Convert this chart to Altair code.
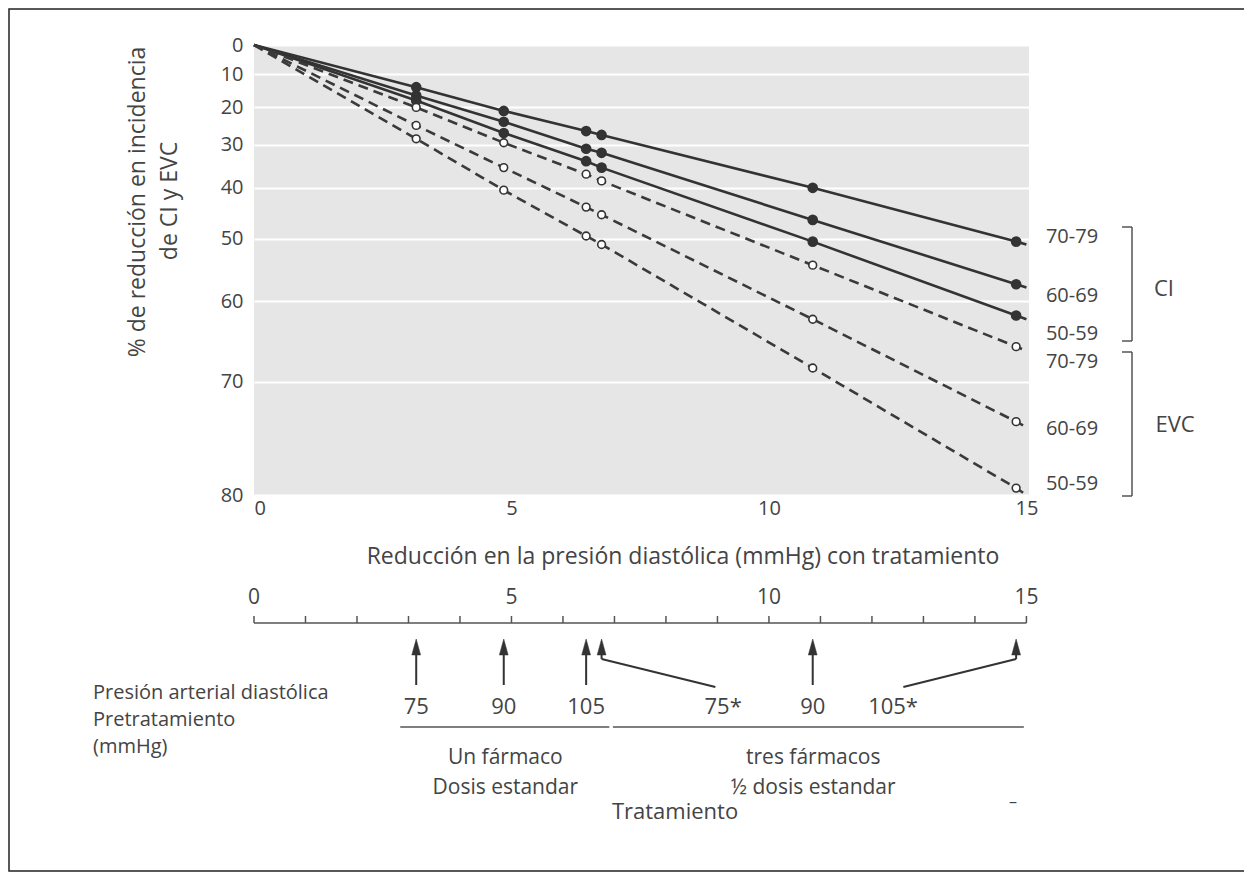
import altair as alt
import pandas as pd

FONT = "Open Sans"
TXT = "#444444"
INK = "#333333"

# ---------------- data ----------------
x_pts = [3.15, 4.85, 6.45, 6.75, 10.85, 14.8]
series = ["CI 70-79", "CI 60-69", "CI 50-59", "EVC 70-79", "EVC 60-69", "EVC 50-59"]
groups = ["CI", "CI", "CI", "EVC", "EVC", "EVC"]
ci_70 = [14, 21, 26.5, 27.5, 40, 50.5]
ci_60 = [16.5, 24, 31, 32, 46.5, 57.5]
ci_50 = [18, 27, 34, 35.5, 50.5, 62]
evc_70 = [20, 29.5, 37, 38.5, 54.5, 66]
evc_60 = [25, 35.5, 44, 45.5, 62.5, 74]
evc_50 = [28.5, 40.5, 49.5, 51, 68.5, 79.5]
all_vals = [ci_70, ci_60, ci_50, evc_70, evc_60, evc_50]
start_x, start_red = 0, 0
end_x = 15
end_red = [51, 58, 62.5, 66.5, 74.5, 80]

age_labels = ["70-79", "60-69", "50-59", "70-79", "60-69", "50-59"]
age_label_red = [49.7, 59.3, 64.4, 67.8, 74.7, 79.2]

y_ticks = [0, 10, 20, 30, 40, 50, 60, 70, 80]
x_ticks = [0, 5, 10, 15]
sec_ticks = [0, 1, 2, 3, 4, 5, 6, 7, 8, 9, 10, 11, 12, 13, 14, 15]
sec_labels = [0, 5, 10, 15]

pre_bp = ["75", "90", "105", "75*", "90", "105*"]
pre_bp_x = [3.15, 4.85, 6.45, 9.11, 10.85, 12.41]
bent = [False, False, False, True, False, True]
bent_from_x = [None, None, None, 8.96, None, 12.61]
span_from = [2.84, 6.97]
span_to = [6.9, 14.95]
span_center = [4.88, 10.86]
span_line1 = ["Un fármaco", "tres fármacos"]
span_line2 = ["Dosis estandar", "½ dosis estandar"]

# ---------------- tables ----------------
line_rows, pt_rows = [], []
for i, s in enumerate(series):
    line_rows.append(dict(series=s, group=groups[i], x=start_x, rr=100 - start_red))
    for xv, v in zip(x_pts, all_vals[i]):
        line_rows.append(dict(series=s, group=groups[i], x=xv, rr=100 - v))
        pt_rows.append(dict(series=s, group=groups[i], x=xv, rr=100 - v))
    line_rows.append(dict(series=s, group=groups[i], x=end_x, rr=100 - end_red[i]))
line_df = pd.DataFrame(line_rows)
pt_df = pd.DataFrame(pt_rows)
lab_df = pd.DataFrame(dict(lab=age_labels, rr=[100 - v for v in age_label_red]))

sec_tick_df = pd.DataFrame(dict(x=sec_ticks))
sec_lab_df = pd.DataFrame(dict(x=sec_labels, lab=[str(v) for v in sec_labels]))
arrow_df = pd.DataFrame(dict(x=x_pts, bent=bent))
straight_df = arrow_df[~arrow_df["bent"]]
bent_df = arrow_df[arrow_df["bent"]]
diag_df = pd.DataFrame(dict(x=[b for b in bent_from_x if b is not None],
                            x2=list(bent_df["x"])))
bp_df = pd.DataFrame(dict(x=pre_bp_x, lab=pre_bp))
span_df = pd.DataFrame(dict(x=span_from, x2=span_to, c=span_center,
                            l1=span_line1, l2=span_line2))
one = pd.DataFrame(dict(k=[0]))

# ---------------- scales / axes ----------------
W, H = 775, 450
xscale = alt.Scale(domain=[0, 15.05], nice=False, zero=False)
yscale = alt.Scale(type="log", domain=[20, 100], nice=False)
xaxis = alt.Axis(values=x_ticks, title=None, ticks=False, domain=False, grid=False,
                 labelFontSize=20, labelColor=TXT, labelPadding=3, labelFont=FONT)
yaxis = alt.Axis(values=[100 - t for t in y_ticks], labelExpr="100 - datum.value",
                 title=None, ticks=False, domain=False, grid=True, gridColor="white",
                 gridWidth=2, labelFontSize=20, labelColor=TXT, labelPadding=11,
                 labelFont=FONT)
X = alt.X("x:Q", scale=xscale, axis=xaxis)
X2 = alt.X2("x2:Q")
Y = alt.Y("rr:Q", scale=yscale, axis=yaxis)

# ---------------- main plot ----------------
ci_line = alt.Chart(line_df).transform_filter(alt.datum.group == "CI").mark_line(
    color=INK, strokeWidth=2.6).encode(x=X, y=Y, detail="series:N")
evc_line = alt.Chart(line_df).transform_filter(alt.datum.group == "EVC").mark_line(
    color="#3a3a3a", strokeWidth=2.6, strokeDash=[10, 6]).encode(x=X, y=Y, detail="series:N")
ci_pts = alt.Chart(pt_df).transform_filter(alt.datum.group == "CI").mark_point(
    shape="circle", filled=True, fill=INK, stroke=INK, size=75, opacity=1).encode(x=X, y=Y)
evc_pts = alt.Chart(pt_df).transform_filter(alt.datum.group == "EVC").mark_point(
    shape="circle", filled=True, fill="white", stroke=INK, strokeWidth=1.6, size=60,
    opacity=1).encode(x=X, y=Y)
age_txt = alt.Chart(lab_df).mark_text(align="center", baseline="middle", fontSize=20,
                                      font=FONT, color=TXT).encode(
    x=alt.value(818), y=Y, text="lab:N")


def ptext(txt, px, py, size=19, align="left", angle=0):
    return alt.Chart(one).mark_text(text=txt, align=align, baseline="middle",
                                    fontSize=size, font=FONT, color=TXT,
                                    angle=angle).encode(x=alt.value(px), y=alt.value(py))


def prule(x1, y1, x2, y2, width=1.5, color="#555555"):
    return alt.Chart(one).mark_rule(color=color, strokeWidth=width).encode(
        x=alt.value(x1), x2=alt.value(x2), y=alt.value(y1), y2=alt.value(y2))


layers = [ci_line, evc_line, ci_pts, evc_pts, age_txt]

# brackets
layers += [prule(878, 182, 878, 296), prule(868, 182, 878, 182), prule(868, 296, 878, 296),
           prule(878, 307, 878, 451), prule(868, 307, 878, 307), prule(868, 451, 878, 451)]
layers += [ptext("CI", 910, 244, 22, "center"), ptext("EVC", 921, 380, 22, "center")]

# axis titles
layers += [ptext("% de reducción en incidencia", -116, 157, 23, "center", 270),
           ptext("de CI y EVC", -84, 156, 23, "center", 270),
           ptext("Reducción en la presión diastólica (mmHg) con tratamiento", 429, 512, 23,
                 "center")]

# secondary axis
layers += [
    alt.Chart(pd.DataFrame(dict(x=[0], x2=[15]))).mark_rule(color="#555555", strokeWidth=1.5)
    .encode(x=X, x2=X2, y=alt.value(578)),
    alt.Chart(sec_tick_df).mark_rule(color="#555555", strokeWidth=1.5)
    .encode(x=X, y=alt.value(571), y2=alt.value(578)),
    alt.Chart(sec_lab_df).mark_text(baseline="middle", align="center", fontSize=21, font=FONT,
                                    color=TXT).encode(x=X, y=alt.value(553), text="lab:N"),
]

# arrows
layers += [
    alt.Chart(straight_df).mark_rule(color=INK, strokeWidth=2)
    .encode(x=X, y=alt.value(606), y2=alt.value(640)),
    alt.Chart(bent_df).mark_rule(color=INK, strokeWidth=2)
    .encode(x=X, y=alt.value(606), y2=alt.value(614)),
    alt.Chart(diag_df).mark_rule(color=INK, strokeWidth=2)
    .encode(x=X, x2=X2, y=alt.value(642), y2=alt.value(614)),
    alt.Chart(arrow_df).mark_point(shape="M0,-1L0.55,1L-0.55,1Z", filled=True, fill=INK,
                                   stroke=INK, strokeWidth=0.5, size=256, opacity=1)
    .encode(x=X, y=alt.value(602)),
    alt.Chart(bp_df).mark_text(baseline="middle", align="center", fontSize=22, font=FONT,
                               color=TXT).encode(x=X, y=alt.value(662), text="lab:N"),
]

# treatment groups
layers += [
    alt.Chart(span_df).mark_rule(color="#555555", strokeWidth=1.5)
    .encode(x=X, x2=X2, y=alt.value(682)),
    alt.Chart(span_df).mark_text(baseline="middle", align="center", fontSize=21, font=FONT,
                                 color=TXT).encode(x=alt.X("c:Q", scale=xscale, axis=xaxis),
                                                   y=alt.value(713), text="l1:N"),
    alt.Chart(span_df).mark_text(baseline="middle", align="center", fontSize=21, font=FONT,
                                 color=TXT).encode(x=alt.X("c:Q", scale=xscale, axis=xaxis),
                                                   y=alt.value(743), text="l2:N"),
    ptext("Tratamiento", 421, 767, 22, "center"),
    ptext("–", 759, 757, 16, "center"),
]

# left annotation
layers += [ptext("Presión arterial diastólica", -161, 648, 20),
           ptext("Pretratamiento", -161, 675, 20),
           ptext("(mmHg)", -161, 702, 20)]

# frame
layers += [alt.Chart(one).mark_rect(fillOpacity=0, stroke="#222222", strokeWidth=1.5).encode(
    x=alt.value(-245), x2=alt.value(991), y=alt.value(-36), y2=alt.value(826))]

chart = alt.layer(*layers).properties(
    width=W, height=H,
    padding={"left": 246, "top": 37, "right": 215, "bottom": 377},
    autosize=alt.AutoSizeParams(type="none"),
).configure(font=FONT).configure_view(fill="#e6e6e6", strokeWidth=0)

chart.save("out.html", embed_options={"renderer": "svg", "actions": False})
